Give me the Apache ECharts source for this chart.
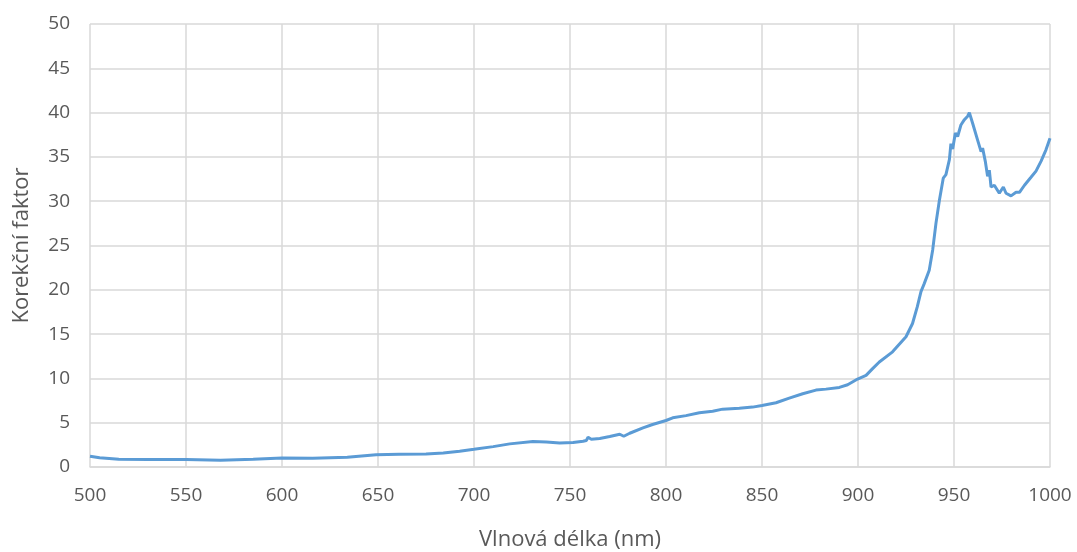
<!DOCTYPE html>
<html>
<head>
<meta charset="utf-8">
<script src="https://cdn.jsdelivr.net/npm/echarts@6/dist/echarts.min.js"></script>
<style>html,body{margin:0;padding:0;background:#fff}#c{width:1077px;height:552px}</style>
</head>
<body>
<div id="c"></div>
<script>
const wavelengths = [500,505,515,530,550,568,585,600,616,634,649,661,675,684,692.5,700,710,718.6,730.7,737.7,744.6,751.6,756.8,758.5,759.4,761.1,765.5,770.7,775.9,778,781.1,788,793,800,803.5,810.4,817.4,824.3,829.5,838.2,845.1,850,857.3,864.2,871.2,878.1,883.3,890.3,894.6,899.8,904.2,907.6,911.1,918,925,928.4,930.9,932.8,934.5,937.1,938.9,940.6,942.4,944.4,945.8,947.6,948.4,949.3,950.7,951.9,953.6,955.4,957.1,958,959.7,962.3,964.1,964.9,966.3,967.5,968.4,969.3,971,973.6,975.7,977.1,979.7,982.3,984.1,986.7,990.1,992.7,995.3,997.9,1000];
const factors = [1.22,1.05,0.88,0.86,0.86,0.76,0.88,1.02,0.98,1.1,1.37,1.44,1.48,1.59,1.78,2.0,2.3,2.61,2.87,2.83,2.72,2.76,2.91,3.0,3.36,3.14,3.21,3.44,3.7,3.47,3.81,4.42,4.8,5.25,5.55,5.8,6.12,6.3,6.53,6.64,6.76,6.95,7.25,7.78,8.27,8.68,8.79,8.98,9.28,9.93,10.34,11.1,11.85,13.0,14.7,16.2,18.1,19.8,20.7,22.2,24.5,27.5,30.1,32.6,33.0,34.7,36.5,35.9,37.7,37.3,38.6,39.2,39.6,40.0,38.8,36.9,35.6,36.0,34.5,32.8,33.5,31.6,31.8,30.9,31.6,30.9,30.6,31.0,31.0,31.8,32.7,33.4,34.5,35.8,37.1];
const xTitle = 'Vlnová délka (nm)';
const yTitle = 'Korekční faktor';

const chart = echarts.init(document.getElementById('c'));
const font = 'Open Sans';
chart.setOption({
  animation: false,
  grid: {left: 90, right: 27, top: 24, bottom: 85, outerBoundsMode: 'none', containLabel: false},
  xAxis: {
    type: 'value', min: 500, max: 1000, interval: 50,
    name: xTitle, nameLocation: 'middle', nameGap: 62,
    nameTextStyle: {fontFamily: font, fontSize: 22, color: '#595959'},
    axisLine: {show: true, lineStyle: {color: '#d9d9d9', width: 1.5}},
    axisTick: {show: false},
    axisLabel: {fontFamily: font, fontSize: 19, color: '#595959', margin: 19, formatter: v => String(v)},
    splitLine: {show: true, lineStyle: {color: '#d9d9d9', width: 1.5}}
  },
  yAxis: {
    type: 'value', min: 0, max: 50, interval: 5,
    name: yTitle, nameLocation: 'middle', nameGap: 57,
    nameTextStyle: {fontFamily: font, fontSize: 22, color: '#595959'},
    axisLine: {show: false},
    axisTick: {show: false},
    axisLabel: {fontFamily: font, fontSize: 19, color: '#595959', margin: 20},
    splitLine: {show: true, lineStyle: {color: '#d9d9d9', width: 1.5}}
  },
  series: [{
    type: 'line',
    data: wavelengths.map((w, i) => [w, factors[i]]),
    showSymbol: false,
    smooth: false,
    lineStyle: {color: '#5b9bd5', width: 3},
    itemStyle: {color: '#5b9bd5'}
  }]
});
</script>
</body>
</html>
